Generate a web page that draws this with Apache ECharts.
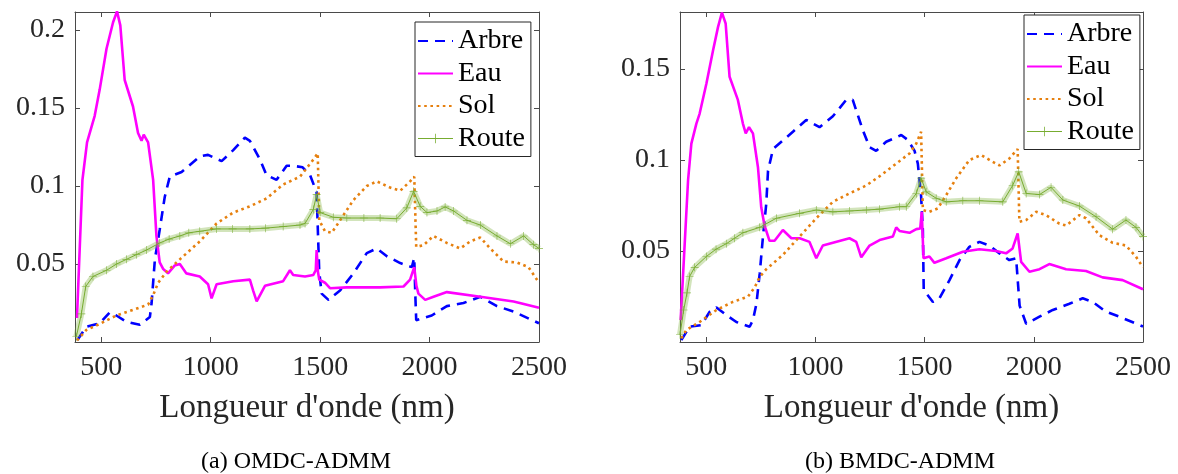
<!DOCTYPE html>
<html>
<head>
<meta charset="utf-8">
<script src="https://cdn.jsdelivr.net/npm/echarts@6/dist/echarts.min.js"></script>
<style>
html,body{margin:0;padding:0;background:#fff;}
#chart{width:1178px;height:474px;}
</style>
</head>
<body>
<div id="chart"></div>
<script>
// ---------- data ----------
const seriesNames = ['Arbre', 'Eau', 'Sol', 'Route'];
const xTicks = [500, 1000, 1500, 2000, 2500];
const yTicksA = [0.05, 0.1, 0.15, 0.2];
const yTicksB = [0.05, 0.1, 0.15];
const captions = ['(a) OMDC-ADMM', '(b) BMDC-ADMM'];
const xLabel = "Longueur d'onde (nm)";

// (a) OMDC-ADMM  [wavelength nm, value]
const arbreA = [[391,0.0013],[432,0.0098],[493,0.012],[539,0.019],[569,0.017],[615,0.013],[676,0.011],[722,0.016],[730,0.025],[745,0.053],[767,0.072],[790,0.093],[813,0.106],[867,0.109],[950,0.119],[988,0.120],[1050,0.116],[1103,0.123],[1156,0.131],[1179,0.129],[1225,0.117],[1255,0.107],[1301,0.104],[1347,0.113],[1377,0.113],[1420,0.112],[1454,0.107],[1484,0.096],[1490,0.070],[1496,0.045],[1507,0.031],[1538,0.027],[1591,0.033],[1652,0.044],[1713,0.057],[1759,0.060],[1805,0.055],[1866,0.0506],[1919,0.048],[1930,0.054],[1935,0.030],[1939,0.014],[2010,0.017],[2079,0.023],[2155,0.025],[2232,0.029],[2308,0.023],[2384,0.0195],[2500,0.012]];
const eauA = [[389,0.0154],[414,0.104],[435,0.128],[470,0.145],[493,0.162],[524,0.188],[554,0.205],[572,0.212],[587,0.203],[607,0.168],[645,0.151],[668,0.134],[684,0.129],[694,0.133],[714,0.128],[737,0.104],[752,0.068],[767,0.051],[782,0.047],[805,0.044],[835,0.049],[859,0.050],[889,0.044],[950,0.042],[988,0.037],[1004,0.028],[1027,0.037],[1103,0.039],[1179,0.040],[1194,0.033],[1210,0.026],[1248,0.036],[1331,0.039],[1362,0.046],[1377,0.043],[1431,0.042],[1469,0.043],[1480,0.046],[1484,0.059],[1490,0.045],[1496,0.040],[1522,0.038],[1545,0.0345],[1622,0.035],[1774,0.035],[1881,0.0356],[1911,0.040],[1930,0.048],[1940,0.036],[1949,0.031],[1980,0.027],[2018,0.029],[2079,0.032],[2232,0.029],[2384,0.026],[2500,0.022]];
const solA = [[389,0.001],[432,0.0077],[493,0.0116],[569,0.017],[645,0.0206],[714,0.024],[737,0.030],[760,0.038],[798,0.045],[859,0.053],[950,0.0645],[1027,0.076],[1103,0.083],[1179,0.087],[1255,0.092],[1331,0.101],[1408,0.106],[1469,0.117],[1489,0.121],[1496,0.078],[1522,0.071],[1553,0.070],[1591,0.078],[1652,0.091],[1713,0.100],[1759,0.103],[1820,0.099],[1866,0.097],[1911,0.103],[1930,0.106],[1939,0.061],[1972,0.062],[2018,0.068],[2079,0.0635],[2140,0.060],[2186,0.0645],[2232,0.067],[2277,0.060],[2338,0.0516],[2399,0.051],[2452,0.048],[2500,0.038]];
const routeA = [[386,0.0034],[409,0.018],[429,0.0356],[462,0.042],[524,0.046],[570,0.050],[615,0.053],[660,0.056],[707,0.059],[767,0.0635],[810,0.066],[859,0.068],[900,0.070],[950,0.071],[1027,0.0725],[1100,0.0725],[1179,0.0725],[1250,0.073],[1331,0.074],[1408,0.075],[1431,0.076],[1469,0.085],[1484,0.0945],[1500,0.083],[1560,0.080],[1622,0.0795],[1700,0.0795],[1774,0.0795],[1850,0.079],[1896,0.086],[1927,0.0966],[1957,0.087],[1988,0.083],[2034,0.084],[2071,0.0866],[2110,0.084],[2171,0.078],[2232,0.075],[2308,0.068],[2369,0.063],[2430,0.068],[2475,0.0624],[2500,0.060]];

// (b) BMDC-ADMM
const arbreB = [[386,0.001],[424,0.0084],[478,0.0093],[516,0.0166],[547,0.019],[592,0.0148],[638,0.011],[699,0.0084],[714,0.012],[730,0.021],[745,0.0377],[760,0.058],[775,0.076],[783,0.094],[806,0.106],[844,0.110],[897,0.1155],[958,0.122],[1019,0.118],[1080,0.124],[1141,0.133],[1171,0.133],[1217,0.1164],[1248,0.107],[1278,0.105],[1324,0.110],[1393,0.1137],[1423,0.111],[1454,0.105],[1469,0.098],[1484,0.080],[1492,0.0615],[1496,0.0285],[1538,0.022],[1568,0.024],[1614,0.034],[1660,0.045],[1705,0.0523],[1751,0.055],[1797,0.053],[1843,0.0487],[1888,0.045],[1919,0.046],[1928,0.047],[1935,0.020],[1965,0.010],[2026,0.0139],[2087,0.0176],[2163,0.021],[2224,0.024],[2270,0.022],[2331,0.0166],[2392,0.0139],[2500,0.0085]];
const eauB = [[383,0.012],[417,0.089],[432,0.109],[455,0.120],[470,0.1255],[501,0.142],[531,0.160],[554,0.173],[572,0.181],[589,0.175],[607,0.1457],[645,0.133],[668,0.120],[681,0.1146],[696,0.118],[714,0.1146],[737,0.096],[752,0.074],[767,0.064],[790,0.0556],[813,0.0556],[851,0.0615],[890,0.057],[928,0.057],[973,0.055],[1004,0.046],[1034,0.053],[1156,0.057],[1187,0.055],[1210,0.0465],[1248,0.053],[1294,0.056],[1355,0.058],[1370,0.063],[1385,0.061],[1431,0.060],[1462,0.062],[1480,0.0624],[1487,0.0715],[1495,0.046],[1522,0.047],[1545,0.0435],[1599,0.046],[1675,0.0496],[1751,0.051],[1827,0.050],[1873,0.0487],[1903,0.0514],[1926,0.0597],[1942,0.044],[1980,0.0386],[2026,0.040],[2071,0.0428],[2148,0.040],[2239,0.039],[2315,0.0355],[2407,0.034],[2500,0.029]];
const solB = [[386,0.002],[409,0.0066],[470,0.011],[547,0.0176],[622,0.022],[691,0.0249],[722,0.030],[745,0.0358],[775,0.040],[851,0.0478],[928,0.058],[1004,0.068],[1080,0.077],[1156,0.0816],[1233,0.086],[1293,0.091],[1370,0.098],[1431,0.1036],[1462,0.109],[1484,0.1155],[1492,0.0725],[1522,0.0715],[1560,0.0734],[1599,0.0807],[1645,0.090],[1705,0.100],[1759,0.1027],[1812,0.099],[1843,0.097],[1888,0.1008],[1926,0.106],[1934,0.066],[1965,0.067],[2011,0.0715],[2056,0.0697],[2117,0.065],[2148,0.064],[2209,0.0697],[2239,0.068],[2300,0.0587],[2361,0.0545],[2422,0.053],[2468,0.0468],[2500,0.041]];
const routeB = [[380,0.004],[397,0.0176],[412,0.027],[424,0.036],[447,0.041],[501,0.047],[545,0.051],[592,0.054],[630,0.057],[668,0.060],[745,0.063],[821,0.068],[928,0.0707],[1004,0.0725],[1080,0.0715],[1156,0.072],[1233,0.0725],[1294,0.073],[1385,0.0743],[1416,0.0743],[1462,0.0816],[1484,0.090],[1507,0.0825],[1553,0.079],[1599,0.077],[1675,0.0776],[1751,0.0776],[1858,0.077],[1903,0.086],[1931,0.0935],[1965,0.0816],[2026,0.081],[2079,0.085],[2133,0.078],[2209,0.0747],[2285,0.0688],[2361,0.062],[2422,0.067],[2468,0.063],[2500,0.058]];

// ---------- styling ----------
const FONT = 'Liberation Serif';
const AX = '#262626';
const AXLINE = '#4a4a4a';
const C_ARBRE = '#0000FF', C_EAU = '#FF00FF', C_SOL = '#E6800F', C_ROUTE = '#77AC30';
const PLUS = 'path://M0,4.6h10v0.8h-10z M4.6,0h0.8v10h-0.8z';
const xMin = 380, xMax = 2500;
const yMaxA = 0.2116, yMaxB = 0.1813;

function fmtY(v){ return String(+v.toFixed(4)); }
function fmtX(v){ return String(Math.round(v)); }

function xAxisDef(grid, top){
  return {
    gridIndex: grid, type: 'value', min: xMin, max: xMax, position: top ? 'top' : 'bottom',
    axisLine: {show: true, onZero: false, lineStyle: {color: AXLINE, width: 1}},
    axisTick: {show: true, inside: true, length: 5, customValues: xTicks, lineStyle: {color: AXLINE}},
    axisLabel: top ? {show: false} : {show: true, customValues: xTicks, formatter: fmtX, fontFamily: FONT, fontSize: 28, color: AX, margin: 12},
    splitLine: {show: false},
    name: top ? '' : xLabel, nameLocation: 'middle', nameGap: 50,
    nameTextStyle: {fontFamily: FONT, fontSize: 33, color: AX}
  };
}
function yAxisDef(grid, right, yMax, ticks){
  return {
    gridIndex: grid, type: 'value', min: 0, max: yMax, position: right ? 'right' : 'left',
    axisLine: {show: true, onZero: false, lineStyle: {color: AXLINE, width: 1}},
    axisTick: {show: true, inside: true, length: 5, customValues: ticks, lineStyle: {color: AXLINE}},
    axisLabel: right ? {show: false} : {show: true, customValues: ticks, formatter: fmtY, fontFamily: FONT, fontSize: 28, color: AX, margin: 10},
    splitLine: {show: false}
  };
}
function seriesFor(xi, yi, arbre, eau, sol, route){
  return [
    {name: 'Arbre', type: 'line', xAxisIndex: xi, yAxisIndex: yi, data: arbre, symbol: 'none',
     lineStyle: {color: C_ARBRE, width: 2.6, type: [10, 7], cap: 'butt'}, itemStyle: {color: C_ARBRE}, z: 2},
    {name: 'Eau', type: 'line', xAxisIndex: xi, yAxisIndex: yi, data: eau, symbol: 'none',
     lineStyle: {color: C_EAU, width: 2.6}, itemStyle: {color: C_EAU}, z: 3},
    {name: 'Sol', type: 'line', xAxisIndex: xi, yAxisIndex: yi, data: sol, symbol: 'none',
     lineStyle: {color: C_SOL, width: 2.6, type: [2.6, 3.6], cap: 'butt'}, itemStyle: {color: C_SOL}, z: 4},
    // soft band under the Route line, mimicking the dense "+" markers of the original
    {name: 'RouteBand', type: 'line', xAxisIndex: xi, yAxisIndex: yi, data: route, symbol: 'none', silent: true,
     lineStyle: {color: 'rgba(119,172,48,0.33)', width: 6}, z: 5},
    {name: 'Route', type: 'line', xAxisIndex: xi, yAxisIndex: yi, data: route, symbol: PLUS, symbolSize: 8,
     showSymbol: true, showAllSymbol: true,
     lineStyle: {color: C_ROUTE, width: 1}, itemStyle: {color: C_ROUTE, opacity: 0.85}, z: 6}
  ];
}
function legendDef(left, top){
  return {
    data: [
      {name: 'Arbre', itemStyle: {opacity: 0}},
      {name: 'Eau', itemStyle: {opacity: 0}},
      {name: 'Sol', itemStyle: {opacity: 0}},
      {name: 'Route', lineStyle: {width: 1, color: C_ROUTE}, itemStyle: {color: C_ROUTE, opacity: 1}}
    ],
    orient: 'vertical', left: left, top: top,
    backgroundColor: '#fff', borderColor: AX, borderWidth: 1, borderRadius: 0,
    padding: [5, 6, 4, 2], itemWidth: 35, itemHeight: 12, itemGap: 4.5,
    textStyle: {fontFamily: FONT, fontSize: 28, color: '#000', lineHeight: 28},
    selectedMode: false
  };
}

const chart = echarts.init(document.getElementById('chart'), null, {renderer: 'canvas'});
chart.setOption({
  animation: false,
  backgroundColor: '#fff',
  grid: [
    {left: 75, top: 12, width: 464, height: 330, containLabel: false},
    {left: 680, top: 12, width: 463, height: 330, containLabel: false}
  ],
  xAxis: [xAxisDef(0, false), xAxisDef(0, true), xAxisDef(1, false), xAxisDef(1, true)],
  yAxis: [yAxisDef(0, false, yMaxA, yTicksA), yAxisDef(0, true, yMaxA, yTicksA),
          yAxisDef(1, false, yMaxB, yTicksB), yAxisDef(1, true, yMaxB, yTicksB)],
  legend: [legendDef(415, 22), legendDef(1024, 15)],
  series: [].concat(
    seriesFor(0, 0, arbreA, eauA, solA, routeA),
    seriesFor(2, 2, arbreB, eauB, solB, routeB)
  ),
  graphic: [
    {type: 'text', x: 296, y: 462, style: {text: captions[0], font: '24px "Liberation Serif"', fill: '#000', textAlign: 'center', textVerticalAlign: 'middle'}},
    {type: 'text', x: 900, y: 462, style: {text: captions[1], font: '24px "Liberation Serif"', fill: '#000', textAlign: 'center', textVerticalAlign: 'middle'}}
  ]
});
</script>
</body>
</html>
